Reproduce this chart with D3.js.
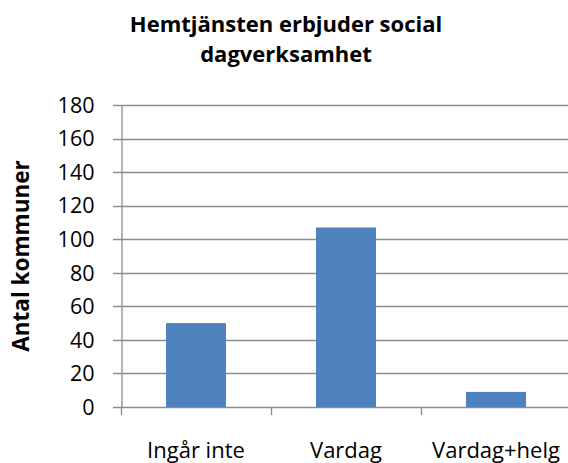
<!doctype html>
<html>
  <head>
    <meta charset="utf-8">
    <title>Hemtjänsten</title>
    <script src="https://cdn.jsdelivr.net/npm/d3@7"></script>
    <style>
      body { margin: 0; background: #fff; }
      text { font-family: "Open Sans", Calibri, sans-serif; fill: #000; }
    </style>
  </head>
  <body>
    <script>
      const categories = ['Ingår inte', 'Vardag', 'Vardag+helg'];
      const values = [50, 107, 9];
      const yTicks = [0, 20, 40, 60, 80, 100, 120, 140, 160, 180];
      const titleLines = ['Hemtjänsten erbjuder social', 'dagverksamhet'];
      const yLabel = 'Antal kommuner';

      const width = 568, height = 463;
      const margin = {top: 105, right: -3, bottom: 56, left: 121};

      const svg = d3.select('body').append('svg')
          .attr('width', width)
          .attr('height', height);

      const x = d3.scaleBand()
          .domain(categories)
          .range([margin.left, width - margin.right])
          .paddingInner(0.6)
          .paddingOuter(0.3);

      const y = d3.scaleLinear()
          .domain([0, 180])
          .range([height - margin.bottom, margin.top]);

      // rutnät
      svg.append('g')
        .selectAll('line')
        .data(yTicks)
        .enter().append('line')
          .attr('x1', margin.left - 8)
          .attr('x2', width)
          .attr('y1', d => Math.round(y(d)) + 0.5)
          .attr('y2', d => Math.round(y(d)) + 0.5)
          .attr('stroke', '#8c8c8c')
          .attr('stroke-width', 1.3);

      // staplar
      svg.append('g')
        .selectAll('rect')
        .data(values)
        .enter().append('rect')
          .attr('x', (d, i) => x(categories[i]))
          .attr('width', x.bandwidth())
          .attr('y', d => y(d))
          .attr('height', d => y(0) - y(d))
          .attr('fill', '#4f81bd');

      // y-axel
      const yAxis = svg.append('g')
          .attr('transform', `translate(${margin.left + 0.5},0)`)
          .call(d3.axisLeft(y).tickValues(yTicks).tickSize(0).tickPadding(27));
      yAxis.select('.domain').attr('stroke', '#8c8c8c').attr('stroke-width', 1.3);
      yAxis.selectAll('text')
          .attr('font-size', '21.5px')
          .attr('font-family', '"Open Sans", sans-serif')
          .attr('dy', '0.34em');

      // x-axel
      const xTickPos = categories.map(c => x(c) - x.step() * x.paddingInner() / 2);
      svg.append('g')
        .selectAll('line')
        .data(xTickPos)
        .enter().append('line')
          .attr('x1', d => Math.round(d) + 0.5)
          .attr('x2', d => Math.round(d) + 0.5)
          .attr('y1', y(0))
          .attr('y2', y(0) + 8)
          .attr('stroke', '#8c8c8c')
          .attr('stroke-width', 1.3);

      svg.append('g')
        .selectAll('text')
        .data(categories)
        .enter().append('text')
          .attr('x', d => x(d) + x.bandwidth() / 2)
          .attr('y', 458)
          .attr('text-anchor', 'middle')
          .attr('font-size', '22px')
          .text(d => d);

      // titel
      svg.append('text')
          .attr('text-anchor', 'middle')
          .attr('font-size', '22px')
          .attr('font-weight', 'bold')
        .selectAll('tspan')
        .data(titleLines)
        .enter().append('tspan')
          .attr('x', 286)
          .attr('y', (d, i) => 32 + i * 30)
          .text(d => d);

      svg.append('text')
          .attr('transform', `translate(29,${(y(0) + y(180)) / 2}) rotate(-90)`)
          .attr('text-anchor', 'middle')
          .attr('font-size', '22.5px')
          .attr('font-weight', 'bold')
          .text(yLabel);
    </script>
  </body>
</html>
